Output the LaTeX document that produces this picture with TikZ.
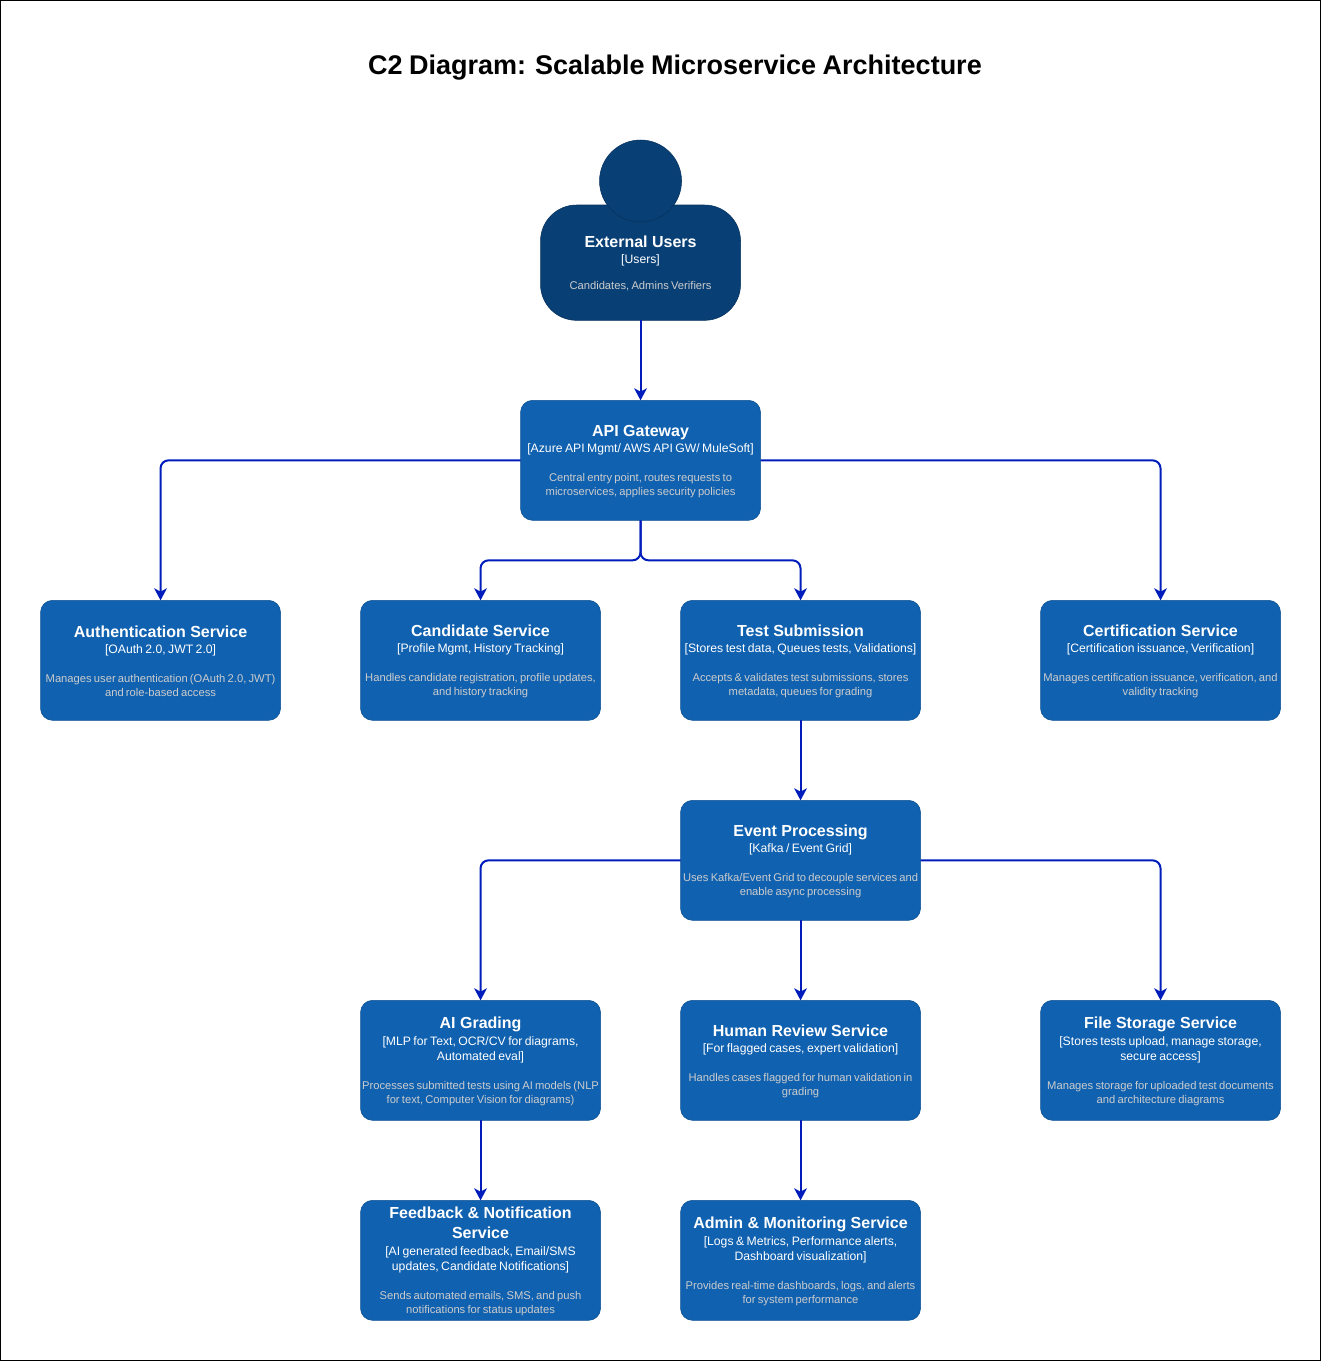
\documentclass[tikz,border=0pt]{standalone}
\usepackage{fontspec}
\setmainfont{Liberation Sans}
\usetikzlibrary{arrows.meta,positioning,calc}
\definecolor{SvcBlue}{HTML}{1061B0}
\definecolor{SvcLine}{HTML}{0D5091}
\definecolor{UserNavy}{HTML}{083F75}
\definecolor{UserLine}{HTML}{06315C}
\definecolor{LinkBlue}{HTML}{001DBC}
\definecolor{DescGrey}{HTML}{CCCCCC}
\newcommand{\titlefont}{\fontsize{20.25pt}{24pt}\selectfont\bfseries\spaceskip=.24em\relax}
\newcommand{\boxtext}[4][11.25pt]{%
  {\fontsize{12pt}{15pt}\selectfont\bfseries\rule{0pt}{10pt}#2\par}\vspace{1pt}%
  {\fontsize{9.15pt}{11.25pt}\selectfont\spaceskip=.2em #3\par}\vspace{#1}%
  {\fontsize{8.4pt}{10.5pt}\selectfont\spaceskip=.2em\color{DescGrey} #4\par}}
\tikzset{
  svc/.style={draw=SvcLine,fill=SvcBlue,rounded corners=9pt,minimum width=180pt,minimum height=90pt,text width=180pt,inner sep=0pt,outer sep=0pt,align=center,text=white},
  person/.style={svc,draw=UserLine,fill=UserNavy,rounded corners=27pt,minimum width=150pt,minimum height=86.5pt,text width=150pt},
  personhead/.style={circle,draw=UserLine,fill=UserNavy,minimum size=61.5pt,inner sep=0pt,outer sep=0pt},
  link/.style={-{Stealth[length=9pt,width=9.5pt,inset=2.5pt]},line width=1.5pt,draw=LinkBlue,rounded corners=6pt}
}
\begin{document}
\begin{tikzpicture}[node distance=60pt]
  \useasboundingbox (0,0) rectangle (990.75pt,-1020.75pt);
  \draw[line width=1pt] (0.5pt,-0.5pt) rectangle (990.25pt,-1020.25pt);
  \node[font=\titlefont] (title) at (506.25pt,-51pt) {C2 Diagram: Scalable Microservice Architecture};
  % users
  \node[person] (users) at (480.4pt,-197pt) {\boxtext[9pt]{External Users}{[Users]}{Candidates, Admins Verifiers}};
  \node[personhead,above=-12.75pt of users] (head) {};
  % gateway and first row
  \node[svc,below=of users] (api) {\boxtext{API Gateway}{[Azure API Mgmt/ AWS API GW/ MuleSoft]}{Central entry point, routes requests to\\microservices, applies security policies}};
  \node[svc,below=of api,xshift=-120pt] (cand) {\boxtext{Candidate Service}{[Profile Mgmt, History Tracking]}{Handles candidate registration, profile updates,\\and history tracking}};
  \node[svc,below=of api,xshift=120pt] (test) {\boxtext{Test Submission}{[Stores test data, Queues tests, Validations]}{Accepts \& validates test submissions, stores\\metadata, queues for grading}};
  \node[svc,left=of cand] (auth) {\boxtext{Authentication Service}{[OAuth 2.0, JWT 2.0]}{Manages user authentication (OAuth 2.0, JWT)\\and role-based access}};
  \node[svc,right=90pt of test] (cert) {\boxtext{Certification Service}{[Certification issuance, Verification]}{Manages certification issuance, verification, and\\validity tracking}};
  % events and consumers
  \node[svc,below=of test] (event) {\boxtext{Event Processing}{[Kafka / Event Grid]}{Uses Kafka/Event Grid to decouple services and\\enable async processing}};
  \node[svc,below=of event] (human) {\boxtext{Human Review Service}{[For flagged cases, expert validation]}{Handles cases flagged for human validation in\\grading}};
  \node[svc,left=of human] (grade) {\boxtext{AI Grading}{[MLP for Text, OCR/CV for diagrams,\\Automated eval]}{Processes submitted tests using AI models (NLP\\for text, Computer Vision for diagrams)}};
  \node[svc,right=90pt of human] (file) {\boxtext{File Storage Service}{[Stores tests upload, manage storage,\\secure access]}{Manages storage for uploaded test documents\\and architecture diagrams}};
  \node[svc,below=of grade] (notify) {\boxtext{Feedback \& Notification\\Service}{[AI generated feedback, Email/SMS\\updates, Candidate Notifications]}{Sends automated emails, SMS, and push\\notifications for status updates}};
  \node[svc,below=of human] (admin) {\boxtext{Admin \& Monitoring Service}{[Logs \& Metrics, Performance alerts,\\Dashboard visualization]}{Provides real-time dashboards, logs, and alerts\\for system performance}};
  \coordinate (fork) at ($(api.south)+(0,-30pt)$);
  \draw[link] (users) -- (api);
  \draw[link] (api.west) -| (auth.north);
  \draw[link] (api.east) -| (cert.north);
  \draw[link] (api.south) -- (fork) -| (cand.north);
  \draw[link] (api.south) -- (fork) -| (test.north);
  \draw[link] (test) -- (event);
  \draw[link] (event.west) -| (grade.north);
  \draw[link] (event) -- (human);
  \draw[link] (event.east) -| (file.north);
  \draw[link] (grade) -- (notify);
  \draw[link] (human) -- (admin);
\end{tikzpicture}
\end{document}
